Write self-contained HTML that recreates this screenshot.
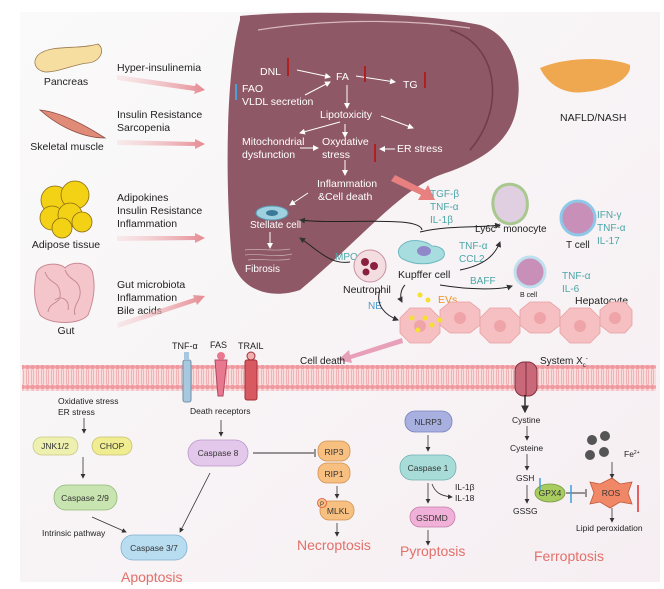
<!DOCTYPE html>
<html><head><meta charset="utf-8"><style>
html,body{margin:0;padding:0;background:#fff}
svg{display:block;font-family:"Liberation Sans",sans-serif}
</style></head><body>
<svg width="664" height="589" viewBox="0 0 664 589" xmlns="http://www.w3.org/2000/svg">
<defs>
<linearGradient id="pk" x1="0" x2="1"><stop offset="0" stop-color="#f4c9cc" stop-opacity="0.3"/><stop offset="1" stop-color="#e58a92"/></linearGradient>
<linearGradient id="bg" x1="0" y1="0" x2="1" y2="1"><stop offset="0" stop-color="#fafafa"/><stop offset="1" stop-color="#f6eef2"/></linearGradient>
<marker id="a" markerWidth="6" markerHeight="6" refX="5" refY="3" orient="auto"><path d="M0,0 L6,3 L0,6 z" fill="#333"/></marker>
<marker id="w" markerWidth="6" markerHeight="6" refX="5" refY="3" orient="auto"><path d="M0,0 L6,3 L0,6 z" fill="#fff"/></marker>
<pattern id="mem" width="5" height="26" patternUnits="userSpaceOnUse">
<rect width="5" height="26" fill="#f9dcdc"/>
<circle cx="2.5" cy="3" r="2.5" fill="#f09aa0"/><circle cx="2.5" cy="23" r="2.5" fill="#f09aa0"/>
<line x1="1.5" y1="6" x2="1.5" y2="20" stroke="#f0a8ac" stroke-width="0.8"/><line x1="3.5" y1="6" x2="3.5" y2="20" stroke="#f0a8ac" stroke-width="0.8"/>
</pattern>
</defs>
<rect x="20" y="12" width="640" height="570" fill="url(#bg)"/>
<!-- organs -->
<path d="M38,55 C50,44 78,50 98,44 C106,50 100,62 88,63 C75,64 60,72 45,72 C35,70 32,62 38,55z" fill="#f6dda0" stroke="#9a7a50" stroke-width="0.8"/>
<text x="66" y="85" font-size="10.5" text-anchor="middle" fill="#222">Pancreas</text>
<path d="M40,110 C60,112 85,125 105,138 C85,138 60,128 40,110z" fill="#e08a78" stroke="#8a4a40" stroke-width="0.8"/>
<text x="67" y="150" font-size="10.5" text-anchor="middle" fill="#222">Skeletal muscle</text>
<g fill="#f3d216" stroke="#8a6a10" stroke-width="0.8">
<circle cx="55" cy="200" r="14"/><circle cx="75" cy="195" r="14"/><circle cx="52" cy="218" r="12"/><circle cx="70" cy="215" r="12"/><circle cx="62" cy="228" r="10"/><circle cx="82" cy="222" r="10"/></g>
<text x="66" y="248" font-size="10.5" text-anchor="middle" fill="#222">Adipose tissue</text>
<path d="M36,275 C38,262 60,262 65,268 C72,260 92,262 93,275 C96,290 92,305 88,315 C80,325 50,325 40,315 C33,300 34,288 36,275z" fill="#f4c6cc" stroke="#c98a94" stroke-width="1"/>
<g fill="none" stroke="#c98a94" stroke-width="1"><path d="M45,272 C50,285 58,280 60,292 C62,305 50,300 48,312 M65,270 C70,282 78,278 80,290 C82,300 72,305 75,315 M55,300 C62,295 70,300 68,310"/></g>
<text x="66" y="334" font-size="10.5" text-anchor="middle" fill="#222">Gut</text>
<g font-size="10.5" fill="#222">
<text x="117" y="71">Hyper-insulinemia</text>
<text x="117" y="118">Insulin Resistance</text><text x="117" y="131">Sarcopenia</text>
<text x="117" y="201">Adipokines</text><text x="117" y="214">Insulin Resistance</text><text x="117" y="227">Inflammation</text>
<text x="117" y="288">Gut microbiota</text><text x="117" y="301">Inflammation</text><text x="117" y="314">Bile acids</text>
</g>
<g fill="url(#pk)">
<path d="M117,75 L195,86 L196,83 L205,90 L194,94 L195,91 L117,80z"/>
<path d="M117,140 L195,142 L195,139 L205,144 L195,149 L195,146 L117,145z"/>
<path d="M117,236 L195,236 L195,233 L205,238 L195,243 L195,240 L117,241z"/>
<path d="M117,323 L194,298 L193,295 L205,296 L197,305 L196,302 L118,328z"/>
</g>
<!-- liver -->
<path d="M240,16 C300,10 420,12 480,25 C515,35 525,80 515,115 C505,150 470,165 440,175 C400,190 360,240 300,290 C270,300 240,290 232,260 C226,200 224,80 240,20 Z" fill="#8e5866"/>
<path d="M450,30 C500,45 505,110 470,150" fill="none" stroke="#6e3c4a" stroke-width="1.5"/>
<path d="M258,30 C320,20 400,18 470,28" fill="none" stroke="#d8b8c0" stroke-width="1.2"/>
<g font-size="10.5" fill="#fff">
<text x="260" y="75">DNL</text><text x="336" y="80">FA</text><text x="403" y="88">TG</text>
<text x="242" y="92">FAO</text><text x="242" y="105">VLDL secretion</text>
<text x="320" y="118">Lipotoxicity</text>
<text x="242" y="145">Mitochondrial</text><text x="242" y="158">dysfunction</text>
<text x="322" y="145">Oxydative</text><text x="322" y="158">stress</text>
<text x="397" y="152">ER stress</text>
<text x="317" y="187">Inflammation</text><text x="318" y="200">&amp;Cell death</text>
<text x="250" y="228" font-size="10">Stellate cell</text><text x="245" y="272" font-size="10">Fibrosis</text>
</g>
<g stroke="#fff" stroke-width="1" marker-end="url(#w)" fill="none">
<line x1="297" y1="70" x2="330" y2="77"/><line x1="305" y1="95" x2="330" y2="82"/>
<line x1="356" y1="76" x2="395" y2="82"/><line x1="347" y1="85" x2="347" y2="108"/>
<line x1="340" y1="122" x2="300" y2="133"/><line x1="345" y1="124" x2="345" y2="137"/><line x1="381" y1="116" x2="413" y2="128"/>
<line x1="300" y1="148" x2="318" y2="148"/><line x1="395" y1="149" x2="380" y2="149"/>
<line x1="345" y1="160" x2="345" y2="175"/><line x1="308" y1="193" x2="290" y2="205"/><line x1="270" y1="232" x2="270" y2="248"/>
</g>
<g stroke="#b02020" stroke-width="2"><line x1="288" y1="76" x2="288" y2="58"/><line x1="365" y1="82" x2="365" y2="66"/><line x1="425" y1="88" x2="425" y2="72"/><line x1="375" y1="162" x2="375" y2="144"/></g>
<line x1="236" y1="84" x2="236" y2="100" stroke="#4aa0d8" stroke-width="2"/>
<ellipse cx="272" cy="213" rx="16" ry="7" fill="#9fd0e0" stroke="#5a9ab0"/><ellipse cx="272" cy="213" rx="6" ry="3" fill="#3a7a98"/>
<g stroke="#c8b0b8" stroke-width="0.7" fill="none"><path d="M245,250 C260,248 275,252 290,249 M245,255 C260,253 275,258 292,254 M248,260 C262,258 276,262 290,259"/></g>
<!-- NAFLD -->
<path d="M540,68 C570,55 615,58 630,65 C632,78 610,90 585,92 C565,95 548,85 540,68z" fill="#f0a850"/>
<text x="560" y="121" font-size="10.5" fill="#222">NAFLD/NASH</text>
<path d="M395,175 L425,190 L428,185 L435,200 L418,200 L421,195 L391,181z" fill="#e88080"/>
<!-- immune -->
<g font-size="10" fill="#4aa6a8">
<text x="430" y="197">TGF-β</text><text x="430" y="210">TNF-α</text><text x="430" y="223">IL-1β</text>
<text x="597" y="218">IFN-γ</text><text x="597" y="231">TNF-α</text><text x="597" y="244">IL-17</text>
<text x="459" y="249">TNF-α</text><text x="459" y="262">CCL2</text>
<text x="470" y="284">BAFF</text>
<text x="562" y="279">TNF-α</text><text x="562" y="292">IL-6</text>
<text x="335" y="260">MPO</text>
</g>
<text x="368" y="309" font-size="10" fill="#4a9ad0">NE</text>
<path d="M497,190 C505,180 525,183 527,200 C530,218 515,228 503,222 C492,216 490,200 497,190z" fill="#e0cfe0" stroke="#a8c890" stroke-width="3"/>
<text x="475" y="232" font-size="10" fill="#222">Ly6c<tspan font-size="6" dy="-4">hi</tspan><tspan dy="4"> monocyte</tspan></text>
<circle cx="578" cy="218" r="17" fill="#c890b8" stroke="#8ec8e8" stroke-width="3"/>
<text x="566" y="248" font-size="10" fill="#222">T cell</text>
<circle cx="530" cy="272" r="15" fill="#c890b8" stroke="#bfe0ee" stroke-width="3"/>
<text x="520" y="297" font-size="7" fill="#222">B cell</text>
<path d="M402,245 C410,238 425,240 432,246 C445,246 448,256 440,260 C430,265 415,265 405,260 C398,258 396,250 402,245z" fill="#a8dde0" stroke="#70b8c0"/>
<ellipse cx="424" cy="251" rx="7" ry="5" fill="#9088c8"/>
<text x="398" y="278" font-size="10.5" fill="#222">Kupffer cell</text>
<circle cx="370" cy="266" r="16" fill="#f4dde0" stroke="#c890a0"/>
<g fill="#8a2040"><circle cx="365" cy="262" r="4"/><circle cx="374" cy="266" r="4"/><circle cx="366" cy="272" r="3.5"/></g>
<text x="343" y="293" font-size="10.5" fill="#222">Neutrophil</text>
<g fill="none" stroke="#222" stroke-width="1" marker-end="url(#a)">
<path d="M422,230 C420,215 340,225 300,220"/><path d="M350,262 C330,265 318,250 300,238"/>
<path d="M420,232 C450,225 480,228 500,225"/>
<path d="M460,270 C485,265 495,255 500,242"/>
<path d="M440,285 C470,290 500,290 512,286"/>
<path d="M380,290 C375,305 385,315 398,320"/><path d="M405,285 C400,290 400,298 402,302"/>
</g>
<text x="438" y="303" font-size="10.5" fill="#f09020">EVs</text>
<text x="575" y="304" font-size="10.5" fill="#222">Hepatocyte</text>
<!-- hepatocytes -->
<g fill="#f6c0c2" stroke="#e89ea2" stroke-width="0.8">
<path d="M400,318 l10,-10 h20 l10,10 v15 l-10,10 h-20 l-10,-10z"/>
<path d="M440,310 l10,-8 h20 l10,8 v15 l-10,8 h-20 l-10,-8z"/>
<path d="M480,318 l10,-10 h20 l10,10 v15 l-10,10 h-20 l-10,-10z"/>
<path d="M520,310 l10,-8 h20 l10,8 v15 l-10,8 h-20 l-10,-8z"/>
<path d="M560,318 l10,-10 h20 l10,10 v15 l-10,10 h-20 l-10,-10z"/>
<path d="M600,310 l10,-8 h15 l7,8 v15 l-7,8 h-15 l-10,-8z"/>
</g>
<g fill="#eea4a8"><circle cx="420" cy="326" r="6"/><circle cx="460" cy="318" r="6"/><circle cx="500" cy="326" r="6"/><circle cx="540" cy="318" r="6"/><circle cx="580" cy="326" r="6"/><circle cx="615" cy="318" r="6"/></g>
<g fill="#f4e030"><circle cx="420" cy="295" r="2.5"/><circle cx="428" cy="300" r="2.5"/><circle cx="412" cy="318" r="2.5"/><circle cx="425" cy="318" r="2.5"/><circle cx="418" cy="330" r="2.5"/><circle cx="432" cy="325" r="2.5"/><circle cx="440" cy="320" r="2.5"/></g>
<path d="M402,338 L350,355 L349,350 L338,360 L352,363 L351,359 L403,343z" fill="#e8a0b8"/>
<!-- membrane -->
<rect x="22" y="365" width="634" height="26" fill="url(#mem)"/>
<text x="300" y="364" font-size="10" fill="#222">Cell death</text>
<text x="540" y="364" font-size="10" fill="#222">System X<tspan font-size="6" dy="3">c</tspan><tspan font-size="6" dy="-7">-</tspan></text>
<g font-size="9" fill="#222"><text x="172" y="349">TNF-α</text><text x="210" y="348">FAS</text><text x="238" y="349">TRAIL</text></g>
<rect x="183" y="360" width="8" height="42" rx="2" fill="#a8c8e0" stroke="#7090a8"/><rect x="184" y="352" width="5" height="8" fill="#a8c8e0"/>
<path d="M215,360 L227,360 L223,396 L218,396z" fill="#e87890" stroke="#b04860"/><circle cx="221" cy="356" r="4" fill="#e87890"/>
<rect x="245" y="360" width="12" height="40" rx="2" fill="#d85a60" stroke="#a03038"/><circle cx="251" cy="356" r="4" fill="#f0b0b0" stroke="#a03038"/>
<rect x="515" y="362" width="22" height="34" rx="9" fill="#c86878" stroke="#803040"/><line x1="526" y1="362" x2="526" y2="396" stroke="#803040"/>
<!-- lower -->
<g font-size="8.5" fill="#222">
<text x="58" y="404">Oxidative stress</text><text x="58" y="415">ER stress</text>
<text x="190" y="414">Death receptors</text>
<text x="42" y="536">Intrinsic pathway</text>
<text x="455" y="490">IL-1β</text><text x="455" y="501">IL-18</text>
<text x="512" y="423">Cystine</text><text x="510" y="451">Cysteine</text><text x="516" y="481">GSH</text><text x="513" y="514">GSSG</text>
<text x="624" y="457">Fe<tspan font-size="5" dy="-3">2+</tspan></text>
<text x="576" y="531">Lipid peroxidation</text>
</g>
<g font-size="8.5" fill="#333" text-anchor="middle" stroke-width="0.8">
<rect x="33" y="437" width="45" height="18" rx="9" fill="#eef0b0" stroke="#c8c880"/><text x="55" y="449">JNK1/2</text>
<rect x="92" y="437" width="40" height="18" rx="9" fill="#f0ec90" stroke="#c8c070"/><text x="112" y="449">CHOP</text>
<rect x="54" y="485" width="63" height="25" rx="12" fill="#c8e4b0" stroke="#90b878"/><text x="85" y="501">Caspase 2/9</text>
<rect x="121" y="535" width="66" height="25" rx="12" fill="#b8dcf0" stroke="#80b0d0"/><text x="154" y="551">Caspase 3/7</text>
<rect x="188" y="440" width="60" height="26" rx="13" fill="#e4c8ec" stroke="#b898c8"/><text x="218" y="456">Caspase 8</text>
<rect x="318" y="441" width="32" height="20" rx="9" fill="#f8c080" stroke="#d09050"/><text x="334" y="455">RIP3</text>
<rect x="318" y="463" width="32" height="20" rx="9" fill="#f8c080" stroke="#d09050"/><text x="334" y="477">RIP1</text>
<rect x="320" y="501" width="34" height="19" rx="9" fill="#f8c080" stroke="#d09050"/><text x="338" y="514">MLKL</text>
<circle cx="322" cy="503" r="4.5" fill="#f8c080" stroke="#e05040"/><text x="322" y="506" font-size="6">P</text>
<rect x="405" y="411" width="47" height="21" rx="10" fill="#a8b0e0" stroke="#7880c0"/><text x="428" y="425">NLRP3</text>
<rect x="400" y="455" width="56" height="25" rx="12" fill="#a8dcd8" stroke="#70b0b0"/><text x="428" y="471">Caspase 1</text>
<rect x="410" y="507" width="45" height="20" rx="10" fill="#f0b0d8" stroke="#c080a8"/><text x="432" y="521">GSDMD</text>
<ellipse cx="550" cy="493" rx="15" ry="9" fill="#a8cc60" stroke="#789840"/><text x="550" y="496">GPX4</text>
<path d="M590,482 L600,484 L612,478 L620,484 L632,482 L628,493 L632,504 L620,502 L610,508 L600,502 L590,504 L594,493z" fill="#f08868" stroke="#c05838"/><text x="611" y="496">ROS</text>
</g>
<g fill="#555"><circle cx="592" cy="440" r="5"/><circle cx="605" cy="436" r="5"/><circle cx="590" cy="455" r="5"/><circle cx="604" cy="452" r="5"/></g>
<g stroke="#333" stroke-width="0.8" fill="none" marker-end="url(#a)">
<line x1="84" y1="418" x2="84" y2="433"/><line x1="83" y1="457" x2="83" y2="478"/>
<line x1="92" y1="517" x2="126" y2="532"/><line x1="210" y1="473" x2="180" y2="532"/>
<line x1="221" y1="420" x2="221" y2="436"/>
<line x1="337" y1="486" x2="337" y2="498"/><line x1="337" y1="523" x2="337" y2="536"/>
<line x1="428" y1="435" x2="428" y2="451"/><line x1="428" y1="483" x2="428" y2="503"/><path d="M432,484 C435,492 440,496 452,497"/>
<line x1="428" y1="530" x2="428" y2="545"/>
<line x1="527" y1="426" x2="527" y2="440"/><line x1="527" y1="454" x2="527" y2="470"/><line x1="527" y1="485" x2="527" y2="503"/>
<line x1="612" y1="462" x2="612" y2="478"/><line x1="612" y1="508" x2="612" y2="522"/>
</g>
<line x1="525" y1="395" x2="525" y2="412" stroke="#111" stroke-width="1.3" marker-end="url(#a)"/>
<line x1="253" y1="453" x2="314" y2="453" stroke="#333"/><line x1="315" y1="449" x2="315" y2="457" stroke="#333"/>
<line x1="566" y1="493" x2="585" y2="493" stroke="#333"/><line x1="586" y1="489" x2="586" y2="497" stroke="#333"/>
<line x1="540" y1="478" x2="540" y2="490" stroke="#3aa0e0" stroke-width="1.5"/><line x1="571" y1="485" x2="571" y2="503" stroke="#3aa0e0" stroke-width="1.5"/>
<line x1="638" y1="512" x2="638" y2="485" stroke="#e03030" stroke-width="1.5"/>
<g font-size="14" fill="#e2706a">
<text x="121" y="582">Apoptosis</text><text x="297" y="550">Necroptosis</text><text x="400" y="556">Pyroptosis</text><text x="534" y="561">Ferroptosis</text>
</g>
</svg>
</body></html>
